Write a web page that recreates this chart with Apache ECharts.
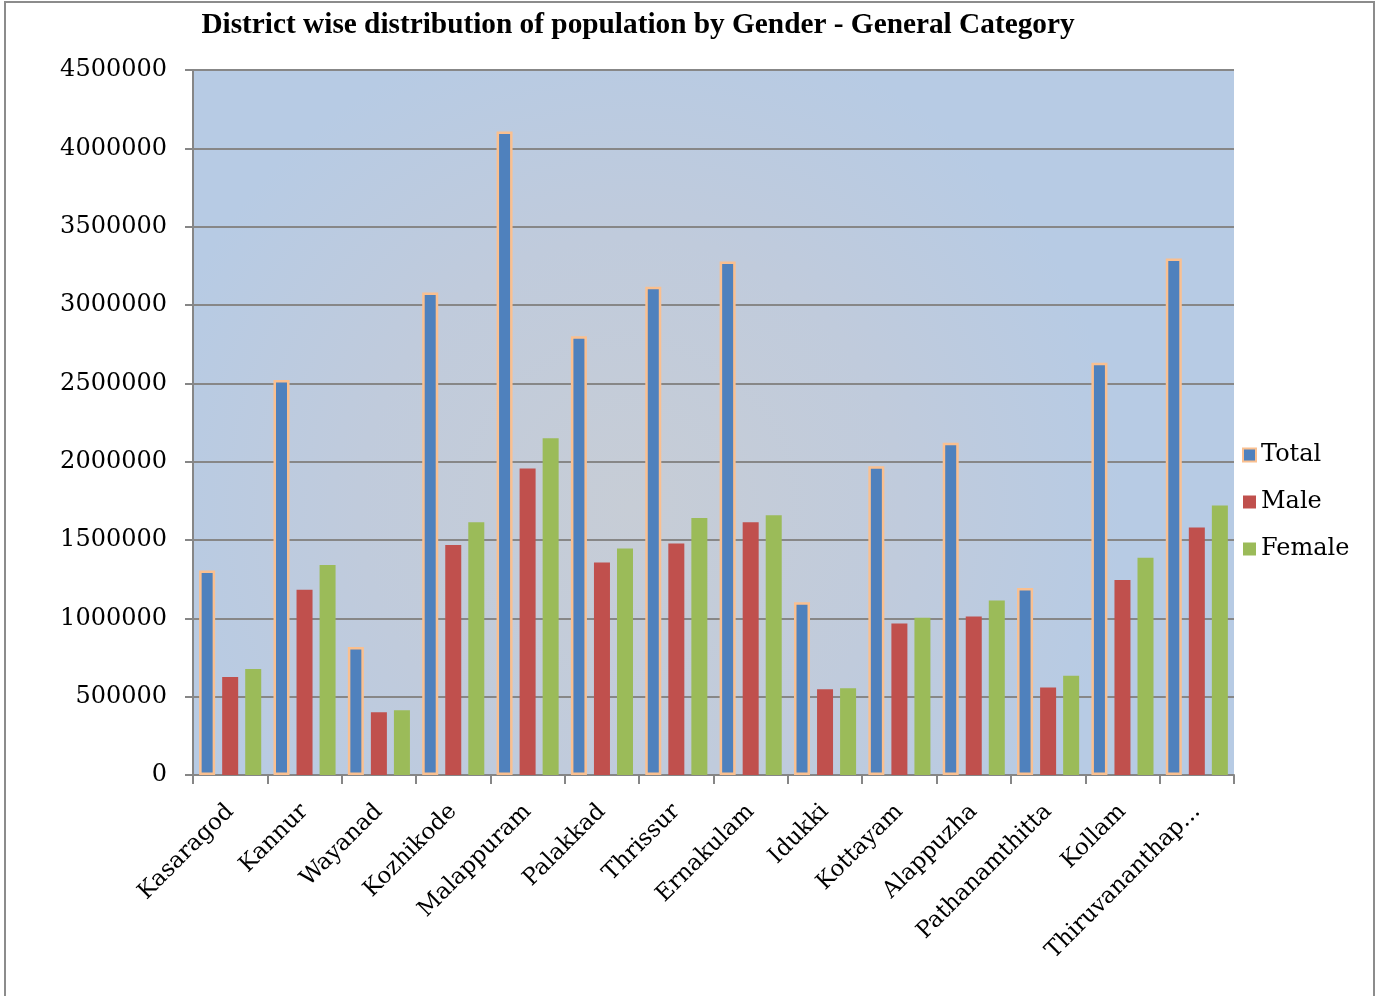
<!DOCTYPE html>
<html>
<head>
<meta charset="utf-8">
<script src="https://cdn.jsdelivr.net/npm/echarts@6/dist/echarts.min.js"></script>
<style>
html,body{margin:0;padding:0;background:#fff;}
#frame{position:absolute;left:4px;top:1px;width:1371px;height:1000px;border:2px solid #8c8c8c;box-sizing:border-box;}
#chart{position:absolute;left:0;top:0;width:1376px;height:996px;}
</style>
</head>
<body>
<div id="frame"></div>
<div id="chart"></div>
<script>
const titleText = 'District wise distribution of population by Gender - General Category';
const districts = ['Kasaragod','Kannur','Wayanad','Kozhikode','Malappuram','Palakkad','Thrissur','Ernakulam','Idukki','Kottayam','Alappuzha','Pathanamthitta','Kollam','Thiruvananthap...'];
const totalValues = [1306000,2521000,817000,3080000,4107000,2800000,3116000,3277000,1103000,1971000,2121000,1193000,2632000,3297000];
const maleValues = [626000,1183000,400000,1468000,1957000,1357000,1478000,1614000,548000,967000,1011000,559000,1245000,1579000];
const femaleValues = [677000,1340000,413000,1613000,2150000,1446000,1640000,1658000,553000,1004000,1114000,634000,1386000,1720000];
const yTicks = {min:0, max:4500000, interval:500000};

const chart = echarts.init(document.getElementById('chart'), null, {renderer:'canvas'});
const serif = '"DejaVu Serif", serif';
chart.setOption({
  animation:false,
  title:{
    text:titleText, left:633, top:6, textAlign:'center',
    textStyle:{fontFamily:'"Liberation Serif", "Times New Roman", serif', fontWeight:'bold', fontSize:29.3, color:'#000'}
  },
  legend:{
    orient:'vertical', left:1237, top:438, itemWidth:13, itemHeight:13, itemGap:23,
    icon:'rect',
    textStyle:{fontFamily:serif, fontSize:24, color:'#000'},
    data:['Total','Male','Female']
  },
  grid:{
    left:193, right:142, top:70, bottom:221, show:true, borderWidth:0,
    backgroundColor:{type:'radial', x:0.42, y:0.62, r:0.7,
      colorStops:[{offset:0,color:'#c7cdd6'},{offset:0.55,color:'#c0cbdc'},{offset:1,color:'#b7cbe4'}]}
  },
  xAxis:{
    type:'category', data:districts, boundaryGap:true,
    axisLine:{lineStyle:{color:'#868686', width:2}},
    axisTick:{show:true, interval:0, length:9, lineStyle:{color:'#868686', width:2}},
    axisLabel:{interval:0, rotate:45, fontFamily:serif, fontSize:23, color:'#000', margin:33}
  },
  yAxis:{
    type:'value', min:yTicks.min, max:yTicks.max, interval:yTicks.interval,
    axisLine:{show:true, lineStyle:{color:'#868686', width:2}},
    axisTick:{show:true, length:8, lineStyle:{color:'#868686', width:2}},
    splitLine:{lineStyle:{color:'#878787', width:2}},
    axisLabel:{fontFamily:serif, fontSize:24, color:'#000', margin:26, formatter:function(v){return String(v);}}
  },
  series:[
    {name:'Total', type:'bar', data:totalValues, barWidth:16, barGap:'44%',
      itemStyle:{color:'#4f81bd', borderColor:'#fac090', borderWidth:2.5}},
    {name:'Male', type:'bar', data:maleValues, barWidth:16, barGap:'44%',
      itemStyle:{color:'#c0504d'}},
    {name:'Female', type:'bar', data:femaleValues, barWidth:16, barGap:'44%',
      itemStyle:{color:'#9bbb59'}}
  ]
});
</script>
</body>
</html>
